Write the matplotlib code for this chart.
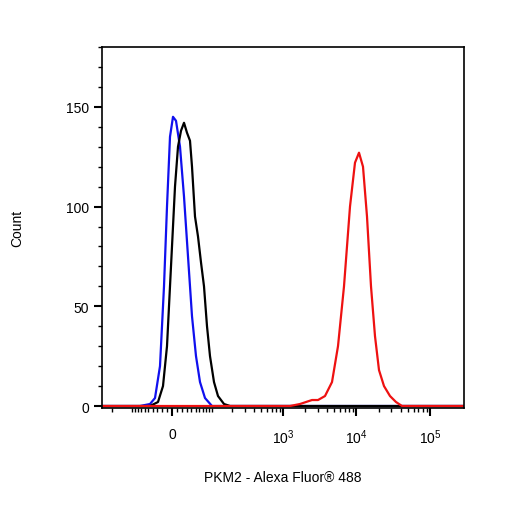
import numpy as np
import matplotlib
matplotlib.use("Agg")
import matplotlib.pyplot as plt
plt.rcParams['font.family'] = ['Liberation Sans', 'DejaVu Sans']
plt.rcParams['mathtext.fontset'] = 'custom'
plt.rcParams['mathtext.rm'] = 'Liberation Sans'

# x in display channels (0..362 across the axis), y = count
blue_x = [0, 38, 48, 53, 58, 62, 65, 68, 71, 74, 78, 82, 86, 90, 94, 98, 103, 110, 362]
blue_y = [0, 0, 1, 4, 20, 60, 100, 135, 145, 143, 130, 105, 75, 45, 25, 12, 4, 0, 0]
black_x = [0, 48, 56, 61, 65, 69, 73, 76, 79, 82, 85, 88, 90, 93, 96, 99, 102, 105, 108, 112, 116, 122, 128, 362]
black_y = [0, 0, 2, 10, 30, 70, 110, 130, 138, 142, 137, 133, 120, 95, 85, 72, 60, 40, 25, 12, 5, 1, 0, 0]
red_x = [0, 188, 198, 204, 210, 216, 223, 230, 236, 242, 248, 253, 257, 261, 265, 269, 273, 277, 282, 288, 294, 300, 362]
red_y = [0, 0, 1, 2, 3, 3, 5, 12, 30, 60, 100, 122, 127, 120, 95, 60, 35, 18, 10, 5, 2, 0, 0]

ZERO = 70.0     # channel of value 0
DEC = 73.5      # channels per decade
C = 31.0
def to_ch(v):
    return ZERO + DEC * np.arcsinh(np.asarray(v, float) / (2 * C)) / np.log(10)

fig = plt.figure(figsize=(5.06, 5.06), dpi=100)
ax = fig.add_axes([102/506, 97/506, 362/506, 361/506])
ax.plot(blue_x, blue_y, color="#1010ee", lw=1.6)
ax.plot(black_x, black_y, color="black", lw=1.6)
ax.plot(red_x, red_y, color="#ee1111", lw=1.6)
ax.set_xlim(0, 362)
ax.set_ylim(-1, 180)

major_vals = [0, 1e3, 1e4, 1e5]
major_labels = ["0", "10$^{3}$", "10$^{4}$", "10$^{5}$"]
minor_vals = []
for k in [1, 2, 3, 4]:
    for m in range(1, 10):
        minor_vals += [m * 10**k, -m * 10**k]
minor_ch = [c for c in to_ch(minor_vals) if 0 <= c <= 362]
ax.set_xticks(to_ch(major_vals))
ax.set_xticklabels(major_labels, fontsize=10)
ax.set_xticks(minor_ch, minor=True)
ax.tick_params(axis="x", which="major", length=6, width=1.5, direction="out", pad=8)
ax.tick_params(axis="x", which="minor", length=3, width=1, direction="out")
ax.set_yticks([0, 50, 100, 150])
ax.set_yticks(np.arange(0, 181, 10), minor=True)
ax.tick_params(axis="y", which="major", length=6, width=1.5, direction="out", labelsize=10)
ax.tick_params(axis="y", which="minor", length=3, width=1, direction="out")
for s in ax.spines.values():
    s.set_linewidth(1.2)
ax.set_xlabel("PKM2 - Alexa Fluor® 488", fontsize=10, labelpad=17)
ax.set_ylabel("Count", fontsize=10, labelpad=30)
fig.savefig("out.png", dpi=100)
